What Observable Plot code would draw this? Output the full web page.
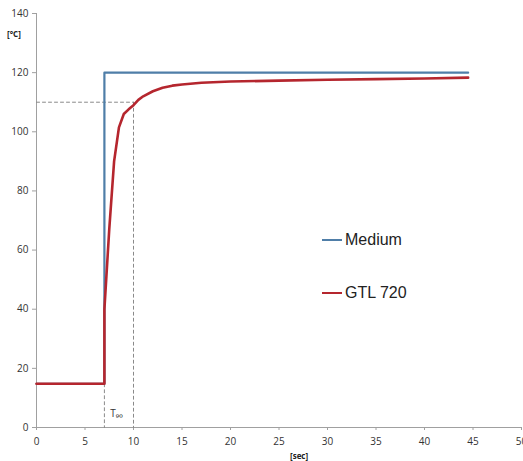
<!DOCTYPE html>
<html>
<head>
<meta charset="utf-8">
<script src="https://cdn.jsdelivr.net/npm/d3@7"></script>
<script src="https://cdn.jsdelivr.net/npm/@observablehq/plot@0.6"></script>
<style>
  body { margin: 0; background: #fff; }
  #wrap { position: relative; width: 523px; height: 461px; font-family: "Open Sans", "Liberation Sans", sans-serif; }
  .lab { position: absolute; font-size: 8px; font-weight: bold; color: #222; }
  .leg { position: absolute; font-family: "Liberation Sans", Arial, sans-serif; font-size: 16px; color: #222; display: flex; align-items: center; }
  .leg span.sw { display: inline-block; width: 20px; height: 2px; margin-right: 3px; }
</style>
</head>
<body>
<div id="wrap"></div>
<script>
// Data
const seriesNames = ["Medium", "GTL 720"];
const seriesColors = ["#4f7ea8", "#b5262e"];
const mediumX = [0, 7, 7, 44.5];
const mediumY = [14.8, 14.8, 120, 120];
const gtlX = [0, 7, 7, 7.5, 8, 8.5, 9, 9.5, 10, 10.5, 11, 12, 13, 14, 15, 17, 20, 25, 30, 35, 40, 44.5];
const gtlY = [14.8, 14.8, 40, 67, 90, 101.5, 106, 107.6, 109, 110.8, 112, 113.7, 114.9, 115.6, 116, 116.6, 117, 117.3, 117.6, 117.8, 118, 118.3];
const xTicks = [0, 5, 10, 15, 20, 25, 30, 35, 40, 45, 50];
const yTicks = [0, 20, 40, 60, 80, 100, 120, 140];
const t90 = 10, t90Value = 110, stepTime = 7, startTemp = 14.8;

const medium = mediumX.map((x, i) => ({x, y: mediumY[i]}));
const gtl = gtlX.map((x, i) => ({x, y: gtlY[i]}));

const guides = [
  [{x: 0, y: t90Value}, {x: t90, y: t90Value}],
  [{x: t90, y: t90Value}, {x: t90, y: 0}],
  [{x: stepTime, y: startTemp}, {x: stepTime, y: 0}]
];

const chart = Plot.plot({
  width: 523,
  height: 461,
  marginLeft: 36,
  marginRight: 2,
  marginTop: 13,
  marginBottom: 34,
  style: {fontFamily: "'Open Sans', 'Liberation Sans', sans-serif", fontSize: "10px", color: "#333", background: "#fff"},
  x: {domain: [0, 50]},
  y: {domain: [0, 140]},
  marks: [
    Plot.ruleX([0], {stroke: "#a0a0a0", strokeWidth: 1}),
    Plot.ruleY([0], {stroke: "#a0a0a0", strokeWidth: 1}),
    Plot.axisX({ticks: xTicks, tickSize: 3, tickPadding: 7, stroke: "#a0a0a0", label: null}),
    Plot.axisY({ticks: yTicks, tickSize: 4, tickPadding: 4, stroke: "#a0a0a0", label: null}),
    ...guides.map(g => Plot.line(g, {x: "x", y: "y", stroke: "#8a8a8a", strokeWidth: 1, strokeDasharray: "3,3"})),
    Plot.line(medium, {x: "x", y: "y", stroke: seriesColors[0], strokeWidth: 2.2}),
    Plot.line(gtl, {x: "x", y: "y", stroke: seriesColors[1], strokeWidth: 2.6, strokeLinejoin: "round"}),
    Plot.text(["T₉₀"], {x: 7.6, y: 4.5, textAnchor: "start", fontSize: 10, fill: "#333"})
  ]
});

const wrap = document.getElementById("wrap");
wrap.appendChild(chart);

function addDiv(cls, html, left, top) {
  const d = document.createElement("div");
  d.className = cls;
  d.innerHTML = html;
  d.style.left = left + "px";
  d.style.top = top + "px";
  wrap.appendChild(d);
  return d;
}
addDiv("lab", "[°C]", 7, 28);
addDiv("lab", "[sec]", 290, 450);
seriesNames.forEach((name, i) => {
  addDiv("leg", `<span class="sw" style="background:${seriesColors[i]}"></span>${name}`, 322, 231 + i * 53);
});
</script>
</body>
</html>
